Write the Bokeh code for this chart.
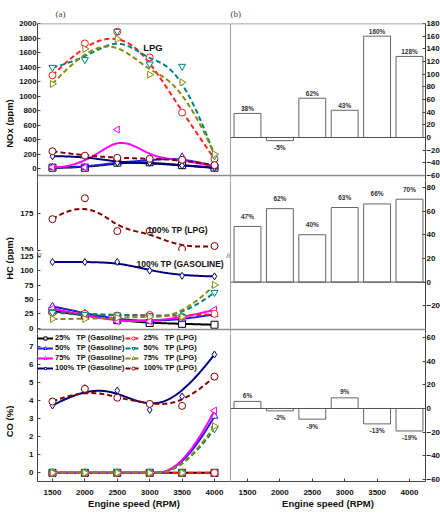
import numpy as np
from bokeh.plotting import figure
from bokeh.layouts import column, row
from bokeh.models import (ColumnDataSource, Range1d, FixedTicker, LinearAxis,
                          Legend, LegendItem, Label, LabelSet, Span)
from bokeh.core.properties import value
from bokeh.embed import file_html
from bokeh.resources import INLINE

# ---------------- data ----------------
rpm = [1500, 2000, 2500, 3000, 3500, 4000]
rpm_ticks = [1500, 2000, 2500, 3000, 3500, 4000]

# NOx (ppm)
nox_g25 = [15, 15, 85, 90, 50, 15]
nox_g50 = [20, 20, 95, 110, 165, 30]
nox_g75 = [22, 20, 540, 125, 125, 35]
nox_g100 = [173, 173, 82, 82, 45, 14]
nox_l25 = [1286, 1726, 1887, 1533, 774, 137]
nox_l50 = [1396, 1502, 1891, 1443, 1410, 180]
nox_l75 = [1168, 1649, 1786, 1296, 1190, 200]
nox_l100 = [242, 181, 151, 137, 124, 50]

# HC (ppm)
hc_g25 = [30, 22, 14, 9, 7.6, 6]
hc_g50 = [38, 26, 15, 12, 15, 24]
hc_g75 = [34, 22, 12, 12, 18, 32]
hc_g100 = [115, 115, 115, 100, 91, 90]
hc_l25 = [27, 25, 22, 23, 20, 25]
hc_l50 = [27, 24, 23, 22, 20, 62]
hc_l75 = [16, 16, 18, 20, 20, 75]
hc_l100 = [171, 185, 163, 163, 151, 153]

# CO (%)
co_g25 = [0, 0, 0, 0, 0, 0]
co_g50 = [0, 0, 0, 0, 0, 3.13]
co_g75 = [0, 0, 0, 0, 0, 3.44]
co_g100 = [3.72, 4.68, 4.55, 3.48, 4.22, 6.54]
co_l25 = [0, 0, 0, 0, 0, 0]
co_l50 = [0, 0, 0, 0, 0, 2.43]
co_l75 = [0, 0, 0, 0, 0, 2.58]
co_l100 = [3.94, 4.64, 4.15, 3.81, 3.70, 5.32]

# (b) percentage change at 100% TP, LPG vs gasoline
nox_change = [38, -5, 62, 43, 160, 128]
hc_change = [47, 62, 40, 63, 66, 70]
co_change = [6, -2, -9, 9, -13, -19]

nox_ticks = [0, 200, 400, 600, 800, 1000, 1200, 1400, 1600, 1800, 2000]
hc_low_ticks = [0, 25, 50, 75, 100, 125]
hc_up_ticks = [150, 175]
co_ticks = [0, 1, 2, 3, 4, 5, 6, 7]
b1_ticks = [-60, -40, -20, 0, 20, 40, 60, 80, 100, 120, 140, 160, 180]
b2_ticks = [-20, 0, 20, 40, 60, 80]
b3_ticks = [-60, -40, -20, 0, 20, 40, 60]

series_names = ["g25", "g50", "g75", "g100", "l25", "l50", "l75", "l100"]
series_labels = {
    "g25": "25%   TP (Gasoline)", "g50": "50%   TP (Gasoline)",
    "g75": "75%   TP (Gasoline)", "g100": "100% TP (Gasoline)",
    "l25": "25%   TP (LPG)", "l50": "50%   TP (LPG)",
    "l75": "75%   TP (LPG)", "l100": "100% TP (LPG)",
}
STY = {
    "g25": ("black", "square", 0.0, "solid"),
    "g50": ("#1f1fe0", "triangle", 0.0, "solid"),
    "g75": ("#ff00ff", "triangle", np.pi / 2, "solid"),
    "g100": ("#00007f", "diamond", 0.0, "solid"),
    "l25": ("#ff2020", "circle", 0.0, "5 3"),
    "l50": ("#008080", "inverted_triangle", 0.0, "5 3"),
    "l75": ("#8a8a10", "triangle", -np.pi / 2, "5 3"),
    "l100": ("#800000", "circle", 0.0, "5 3"),
}

FONT = "Liberation Sans"
EDGE = "#444444"
SEP = "#8c8c8c"


def bspline(xs, ys, n=150, k=3):
    """Clamped cubic B-spline using the data points as control points (Origin 'B-Spline' connect)."""
    P = np.column_stack([np.asarray(xs, float), np.asarray(ys, float)])
    m = len(P)
    knots = np.concatenate([np.zeros(k), np.linspace(0, 1, m - k + 1), np.ones(k)])
    t = np.linspace(0, 1, n)
    nb = len(knots) - 1
    N = np.zeros((n, nb))
    for i in range(nb):
        N[:, i] = ((t >= knots[i]) & (t < knots[i + 1])).astype(float)
    last = max(i for i in range(nb) if knots[i] < knots[i + 1])
    N[-1, :] = 0
    N[-1, last] = 1
    for d in range(1, k + 1):
        Nn = np.zeros((n, nb - d))
        for i in range(nb - d):
            a = np.zeros(n)
            b = np.zeros(n)
            d1 = knots[i + d] - knots[i]
            d2 = knots[i + d + 1] - knots[i + 1]
            if d1 > 0:
                a = (t - knots[i]) / d1 * N[:, i]
            if d2 > 0:
                b = (knots[i + d + 1] - t) / d2 * N[:, i + 1]
            Nn[:, i] = a + b
        N = Nn
    C = N @ P
    return C[:, 0], C[:, 1]


def base_fig(fw, fh, xr, yr, bl=0, br=0, bt=0, bb=0, title=None):
    kw = dict(frame_width=fw, frame_height=fh, x_range=Range1d(*xr), y_range=Range1d(*yr),
              x_axis_type=None, y_axis_type=None, output_backend="svg",
              toolbar_location=None, min_border_left=bl, min_border_right=br,
              min_border_top=bt, min_border_bottom=bb,
              background_fill_color="white", border_fill_color="white")
    if title:
        kw["title"] = title
    p = figure(**kw)
    p.outline_line_color = None
    if title:
        p.title.text_font = "Liberation Serif"
        p.title.text_font_style = "normal"
        p.title.text_font_size = "9px"
        p.title.align = "left"
        p.title.standoff = 10
    return p


def vline(p, x, color=EDGE, w=1):
    p.add_layout(Span(location=x, dimension="height", line_color=color, line_width=w))


def hline(p, y, color=SEP, w=1.6):
    p.add_layout(Span(location=y, dimension="width", line_color=color, line_width=w))


def add_axis(p, side, ticks, label=None, standoff=3, fs="8px", label_standoff=2, baseline=None):
    ax = LinearAxis(ticker=FixedTicker(ticks=ticks, minor_ticks=[]))
    ax.major_label_text_font = FONT
    ax.major_label_text_font_style = "bold"
    ax.major_label_text_font_size = fs
    ax.major_label_text_color = "#111111"
    ax.major_tick_in = 3
    ax.major_tick_out = 0
    ax.major_tick_line_color = EDGE
    ax.axis_line_color = EDGE
    ax.major_label_standoff = standoff
    if baseline:
        ax.major_label_text_baseline = baseline
    if label:
        ax.axis_label = label
        ax.axis_label_text_font = FONT
        ax.axis_label_text_font_style = "bold"
        ax.axis_label_text_font_size = "9.5px"
        ax.axis_label_text_color = "#111111"
        ax.axis_label_standoff = label_standoff
    p.add_layout(ax, side)
    return ax


def label_fig(h, y_from_top, text):
    f = base_fig(14, h, (0, 14), (0, h))
    f.add_layout(Label(x=8.5, y=h - y_from_top, text=text, angle=np.pi / 2, text_font=FONT,
                       text_font_style="bold", text_font_size="9.5px",
                       text_align="center", text_baseline="middle", text_color="#111111"))
    return f


def draw(p, key, ys):
    color, marker, angle, dash = STY[key]
    cx, cy = bspline(rpm, ys)
    lr = p.line(cx, cy, line_color=color, line_width=2, line_dash=dash)
    sr = p.scatter(rpm, ys, marker=marker, angle=angle, size=7, line_color=color,
                   fill_color="white", line_width=1)
    return lr, sr


def bars(p, vals, up_off):
    src = ColumnDataSource(dict(
        x=rpm, top=vals,
        txt=[f"{v}%" for v in vals],
        off=[up_off if v >= 0 else -7 for v in vals],
    ))
    p.vbar(x="x", top="top", bottom=0, width=415, source=src,
           fill_color="white", line_color="#666666", line_width=1)
    hline(p, 0, color="#555555", w=1)
    p.add_layout(LabelSet(x="x", y="top", text="txt", y_offset="off", source=src,
                          text_align="center", text_baseline="middle",
                          text_font=value(FONT), text_font_size="6.5px",
                          text_font_style="bold", text_color="#333333"))


# ---------------- geometry ----------------
LW, RW = 193, 195
BL, BR = 23, 15
TOP, BOT = 23, 33

lx = (1269, 4247)
rx = (1238, 4247)

# y ranges (frames are extended a few px past the panel separators so that
# edge tick labels are not cut; separators are drawn at the panel limits)
nox_y, nox_sep = (-161.0, 2000), -92.2
b1_y, b1_sep = (-67.9, 180), -60
hcu_y = (149.33, 196.9)
hcl_y, hcl_sep = (-9.2, 133.16), -2.26
b2_y, b2_sep = (-43.38, 85.78), -40
co_y = (-0.48, 7.70)
b3_y = (-61.69, 63.38)

# ---- Row 1: NOx ----
f_lab1 = label_fig(180, 100, "NOx (ppm)")
f_nox = base_fig(LW, 157, lx, nox_y, bl=BL, bt=TOP, title="(a)")
f_nox.title.offset = 18
add_axis(f_nox, "left", nox_ticks, standoff=1, fs="7.8px")
hline(f_nox, nox_y[1])
hline(f_nox, nox_sep)
vline(f_nox, lx[1])
for k, ys in zip(series_names, [nox_g25, nox_g50, nox_g75, nox_g100,
                                nox_l25, nox_l50, nox_l75, nox_l100]):
    draw(f_nox, k, ys)
f_nox.add_layout(Label(x=3050, y=1670, text="LPG", text_font=FONT, text_font_style="bold",
                       text_font_size="9.5px", text_align="center", text_baseline="middle",
                       text_color="#111111"))

f_b1 = base_fig(RW, 157, rx, b1_y, br=BR, bt=TOP, title="(b)")
f_b1.title.offset = 0
add_axis(f_b1, "right", b1_ticks, standoff=1, fs="7.8px")
hline(f_b1, b1_y[1])
hline(f_b1, b1_sep)
vline(f_b1, rx[0])
bars(f_b1, nox_change, 5)

# ---- Row 2: HC (broken axis) ----
f_lab2 = label_fig(153, 78, "HC (ppm)")

f_hu = base_fig(LW, 71, lx, hcu_y, bl=BL)
add_axis(f_hu, "left", hc_up_ticks, standoff=4, baseline="bottom")
vline(f_hu, lx[1])
draw(f_hu, "l100", hc_l100)
f_hu.add_layout(Label(x=3430, y=164, text="100% TP (LPG)", text_font=FONT,
                      text_font_style="bold", text_font_size="8.5px",
                      text_align="center", text_baseline="middle", text_color="#111111"))

f_hl = base_fig(LW, 82, lx, hcl_y, bl=BL)
add_axis(f_hl, "left", hc_low_ticks, standoff=4)
vline(f_hl, lx[1])
hline(f_hl, hcl_sep)
for k, ys in zip(["g25", "g50", "g75", "g100", "l25", "l50", "l75"],
                 [hc_g25, hc_g50, hc_g75, hc_g100, hc_l25, hc_l50, hc_l75]):
    draw(f_hl, k, ys)
f_hl.add_layout(Label(x=3470, y=112, text="100% TP (GASOLINE)", text_font=FONT,
                      text_font_style="bold", text_font_size="8.5px",
                      text_align="center", text_baseline="middle", text_color="#111111"))
f_hl.add_layout(Label(x=lx[0], y=hcl_y[1], text="//", text_font=FONT, text_font_size="7px",
                      text_align="left", text_baseline="top", text_color="#333333"))
f_hl.add_layout(Label(x=lx[1], y=hcl_y[1], text="//", text_font=FONT, text_font_size="7px",
                      text_align="right", text_baseline="top", text_color="#333333"))

f_b2 = base_fig(RW, 153, rx, b2_y, br=BR)
add_axis(f_b2, "right", b2_ticks, standoff=1)
vline(f_b2, rx[0])
hline(f_b2, b2_sep)
bars(f_b2, hc_change, 10)

# ---- Row 3: CO ----
f_lab3 = label_fig(181, 88, "CO (%)")
f_co = base_fig(LW, 148, lx, co_y, bl=BL, bb=BOT)
add_axis(f_co, "left", co_ticks, standoff=4)
add_axis(f_co, "below", rpm_ticks, label="Engine speed (RPM)", standoff=8, label_standoff=0)
vline(f_co, lx[1])
items = {}
for k, ys in zip(series_names, [co_g25, co_g50, co_g75, co_g100,
                                co_l25, co_l50, co_l75, co_l100]):
    items[k] = draw(f_co, k, ys)
legend = Legend(items=[LegendItem(label=series_labels[k], renderers=list(items[k]))
                       for k in series_names],
                ncols=2, location="top_left")
legend.label_text_font = FONT
legend.label_text_font_style = "bold"
legend.label_text_font_size = "7.5px"
legend.label_text_color = "#111111"
legend.label_height = 8
legend.glyph_height = 8
legend.glyph_width = 16
legend.label_standoff = 2
legend.spacing = 1
legend.padding = 0
legend.margin = 0
legend.background_fill_alpha = 0
legend.border_line_color = None
f_co.add_layout(legend)

f_b3 = base_fig(RW, 148, rx, b3_y, br=BR, bb=BOT)
add_axis(f_b3, "right", b3_ticks, standoff=1)
add_axis(f_b3, "below", rpm_ticks, label="Engine speed (RPM)", standoff=8, label_standoff=0)
vline(f_b3, rx[0])
bars(f_b3, co_change, 6)

layout = column(
    row(f_lab1, f_nox, f_b1),
    row(f_lab2, column(f_hu, f_hl), f_b2),
    row(f_lab3, f_co, f_b3),
)

open("out.html", "w").write(file_html(layout, INLINE))
